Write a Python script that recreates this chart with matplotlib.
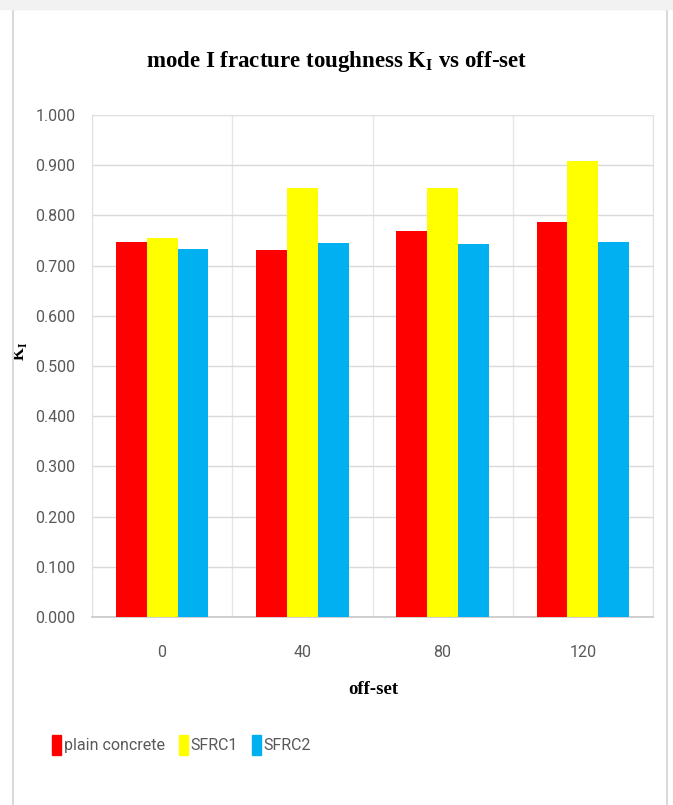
import matplotlib.pyplot as plt
import matplotlib.patches as mpatches
import numpy as np

offsets = ['0', '40', '80', '120']
plain_concrete = [0.748, 0.732, 0.768, 0.787]
sfrc1 = [0.754, 0.854, 0.854, 0.909]
sfrc2 = [0.734, 0.746, 0.743, 0.748]

series = [('plain concrete', plain_concrete, '#ff0000'),
          ('SFRC1', sfrc1, '#ffff00'),
          ('SFRC2', sfrc2, '#00b0f0')]

tick_font = ['Liberation Sans Narrow', 'Roboto', 'DejaVu Sans']
serif_font = ['Liberation Serif', 'DejaVu Serif']

fig = plt.figure(figsize=(6.73, 8.05), dpi=100)

# light frame round the whole chart
fig.patches.append(mpatches.Rectangle((13 / 673, -0.01), 654 / 673, 1 - 9 / 805 + 0.01,
                                      transform=fig.transFigure, fill=False,
                                      edgecolor='#d9d9d9', linewidth=1.5))
fig.patches.append(mpatches.Rectangle((0, 1 - 9 / 805), 1, 9 / 805,
                                      transform=fig.transFigure, color='#f2f2f2'))

ax = fig.add_axes([92 / 673, 1 - 617 / 805, 561 / 673, 502 / 805])

x = np.arange(len(offsets))
w = 0.22
for i, (name, vals, col) in enumerate(series):
    ax.bar(x + (i - 1) * w, vals, width=w, color=col, label=name, zorder=3)

ax.set_xlim(-0.5, len(offsets) - 0.5)
ax.set_ylim(0, 1.0)
ax.set_yticks(np.arange(0, 1.01, 0.1))
ax.set_yticklabels([f'{v:.3f}' for v in np.arange(0, 1.01, 0.1)])
ax.set_xticks(x)
ax.set_xticklabels(offsets)

# grid lines: horizontal at ticks, vertical between categories
ax.set_xticks(np.arange(-0.5, len(offsets), 1.0), minor=True)
ax.grid(axis='y', color='#d9d9d9', linewidth=1, zorder=0)
ax.grid(axis='x', which='minor', color='#e6e6e6', linewidth=1, zorder=0)
ax.grid(axis='x', which='major', visible=False)

for s in ['top', 'right', 'left']:
    ax.spines[s].set_color('#e0e0e0')
ax.spines['bottom'].set_color('#c8c8c8')
ax.spines['bottom'].set_linewidth(1.2)
ax.tick_params(axis='both', which='both', length=0)
ax.tick_params(axis='y', pad=12)
ax.tick_params(axis='x', pad=20)
for lbl in ax.get_xticklabels() + ax.get_yticklabels():
    lbl.set_family(tick_font)
    lbl.set_fontsize(11.5)
    lbl.set_color('#595959')

fig.text(0.5, 1 - 62 / 805, r'mode I fracture toughness K$_\mathregular{I}$ vs off-set',
         ha='center', va='center', fontsize=16.5, fontweight='bold',
         family=serif_font, color='black')
ax.set_ylabel(r'K$_\mathregular{I}$', fontsize=12, fontweight='bold',
              family=serif_font)
ax.yaxis.set_label_coords(-0.112, 0.53)
fig.text(373 / 673, 1 - 690 / 805, 'off-set', ha='center', va='center',
         fontsize=13.5, fontweight='bold', family=serif_font)

handles = [mpatches.Patch(color=c) for _, _, c in series]
leg = fig.legend(handles, [n for n, _, _ in series], loc='center left',
                 bbox_to_anchor=(38 / 673, 1 - 745 / 805), ncol=3, frameon=False,
                 handlelength=0.55, handleheight=1.5, handletextpad=0.15,
                 columnspacing=0.9, prop={'family': tick_font, 'size': 11.5})
for t in leg.get_texts():
    t.set_color('#595959')

fig.savefig('out.png', dpi=100)
